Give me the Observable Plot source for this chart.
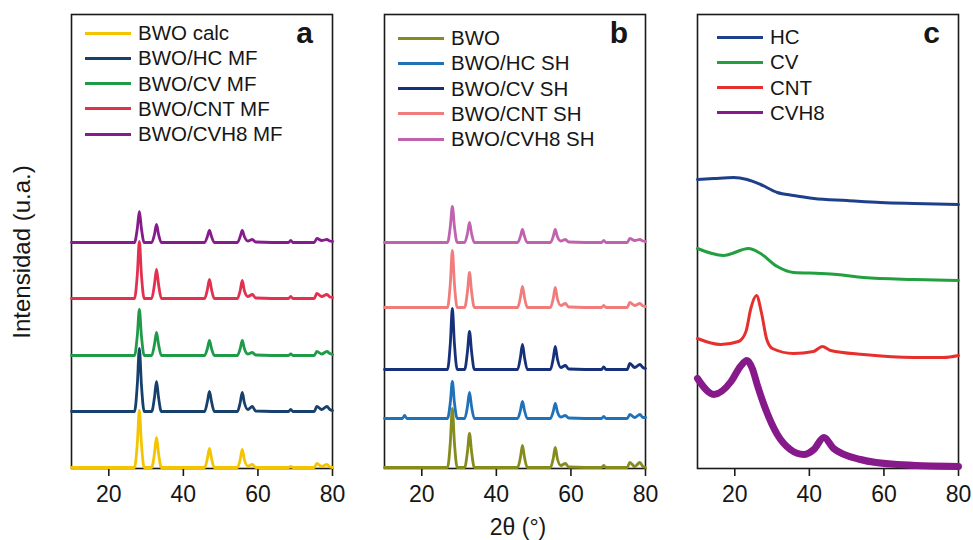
<!DOCTYPE html>
<html>
<head>
<meta charset="utf-8">
<script src="https://cdn.jsdelivr.net/npm/d3@7"></script>
<script src="https://cdn.jsdelivr.net/npm/@observablehq/plot@0.6"></script>
<style>
  html, body { margin: 0; padding: 0; background: #fff; }
  #root { position: relative; width: 973px; height: 540px; overflow: hidden; font-family: "Liberation Sans", Arial, sans-serif; color: #161616; }
  .abs { position: absolute; }
  .leg { position: absolute; display: flex; align-items: center; font-size: 20.5px; line-height: 24px; white-space: nowrap; }
  .leg .sw { width: 46px; height: 3px; margin-right: 7px; }
  .letter { position: absolute; font-weight: bold; font-size: 30px; line-height: 30px; }
</style>
</head>
<body>
<div id="root"></div>
<script>
// ---------- data ----------
// shared 2θ sampling positions for panels a and b (peak positions)
const gridAB = [10, 14.8, 15.4, 16,
  26.9, 27.65, 28.2, 28.75, 29.5,
  31.5, 32.25, 32.8, 33.35, 34.1,
  45.7, 46.45, 47, 47.55, 48.3,
  54.5, 55.25, 55.8, 56.35, 57.3, 58.5, 59.4,
  68.2, 68.8, 69.4,
  75.1, 75.8, 77.1, 78.5, 79.3, 80];

// panel a (MF) — intensity above each trace's own baseline
const aNames = ["BWO calc", "BWO/HC MF", "BWO/CV MF", "BWO/CNT MF", "BWO/CVH8 MF"];
const aColors = ["#F5C400", "#17406D", "#1E9A48", "#E2304F", "#861C8C"];
const aBaselines = [1, 57, 113, 170, 226];
const bwoCalc  = [0,0,0,0, 0,24,57,24,0, 0,14,30,14,0, 0,9,19,9,0, 0,8,18,8,1.5,3,0, 0,1,0, 0,4,1,3,0.5,0];
const bwoHcMF  = [0,0,0,0, 0,27,63,27,0, 0,14,30,14,0, 0,10,20,10,0, 0,9,19,9,2,5,0.5, 0,2,0, 0,5,2,5,2,1];
const bwoCvMF  = [0,0,0,0, 0,20,46,20,0, 0,11,23,11,0, 0,7,15,7,0, 0,7,15,7,1.5,3,0.5, 0,1.5,0, 0,4,1.5,4,2,1];
const bwoCntMF = [0,0,0,0, 0,24,57,24,0, 0,14,29,14,0, 0,9,19,9,0, 0,8,18,8,2,4,0.5, 0,2,0, 0,5,2,4,1.5,1];
const bwoCvh8MF= [0,0,0,0, 0,14,31,14,0, 0,8,18,8,0, 0,6,12,6,0, 0,6,12,6,1.5,3,0.5, 0,2,0, 0,4,2,3,1.5,1];

// panel b (SH)
const bNames = ["BWO", "BWO/HC SH", "BWO/CV SH", "BWO/CNT SH", "BWO/CVH8 SH"];
const bColors = ["#868B1E", "#1F72BA", "#17307A", "#F07C7C", "#C062AE"];
const bBaselines = [1, 50, 99, 161, 226];
const bwo      = [0,0,0,0, 0,25,59,25,0, 0,16,34,16,0, 0,10,22,10,0, 0,9,20,9,2,4,0.5, 0,2,0, 0,5,1,5,1,0];
const bwoHcSH  = [0,0,3,0, 0,16,37,16,0, 0,12,26,12,0, 0,8,17,8,0, 0,7,15,7,1.5,3,0.5, 0,2,0, 0,4,1,4,1,1];
const bwoCvSH  = [0,0,0,0, 0,26,61,26,0, 0,18,38,18,0, 0,12,25,12,0, 0,11,23,11,2,4,0.5, 0,2.5,0, 0,6,2,5,2,1];
const bwoCntSH = [0,0,0,0, 0,24,57,24,0, 0,16,35,16,0, 0,10,21,10,0, 0,9,20,9,2,4,0.5, 0,2,0, 0,5,2,4,1.5,1];
const bwoCvh8SH= [0,0,0,0, 0,16,36,16,0, 0,9,20,9,0, 0,6,13,6,0, 0,6,13,6,1.5,3,0.5, 0,2,0, 0,4,2,3,1.5,1];

// panel c (carbons)
const cNames = ["HC", "CV", "CNT", "CVH8"];
const cColors = ["#1E3F8A", "#22A03F", "#E5302D", "#861A8A"];
const cWidths = [3, 3, 3, 7];
const hcX   = [10, 14.4, 19.7, 23.3, 26.9, 31.4, 35.8, 41.2, 50.1, 59.1, 68, 80];
const hcY   = [289, 290, 291, 289, 284, 276, 273, 270, 268, 266, 265, 264];
const cvX   = [10, 17, 23.7, 26.9, 31.4, 35.8, 43, 47.4, 54.5, 68, 80];
const cvY   = [220, 213, 220, 215, 202, 196, 195, 194, 191, 189, 188];
const cntX  = [10, 16.2, 21, 23, 24.3, 25.8, 27.2, 28.5, 30.1, 35.7, 41.1, 43.5, 45.7, 54.5, 68, 76, 80];
const cntY  = [130, 124, 127, 137, 160, 173, 155, 130, 120, 115, 117, 122, 118, 114, 111, 111, 113];
const cvh8X = [10, 14.4, 19, 21.5, 23.3, 24.7, 26, 27.8, 31.4, 34.9, 38.5, 41.2, 43.9, 46.5, 53.7, 63.6, 80];
const cvh8Y = [90, 74, 87, 102, 108, 100, 84, 64, 34, 19, 14, 19, 31, 20, 9, 4, 2];

const xTicks = [20, 40, 60, 80];

// ---------- build tables ----------
function stacked(names, baselines, series) {
  const rows = [];
  series.forEach((vals, i) => vals.forEach((v, j) => rows.push({s: names[i], x: gridAB[j], y: baselines[i] + v})));
  return rows;
}
const aData = stacked(aNames, aBaselines, [bwoCalc, bwoHcMF, bwoCvMF, bwoCntMF, bwoCvh8MF]);
const bData = stacked(bNames, bBaselines, [bwo, bwoHcSH, bwoCvSH, bwoCntSH, bwoCvh8SH]);
const cSeries = [[hcX, hcY], [cvX, cvY], [cntX, cntY], [cvh8X, cvh8Y]];

const FONT = '"Liberation Sans", Arial, sans-serif';

function panel(lineMarks) {
  return Plot.plot({
    width: 283, height: 510,
    marginLeft: 10, marginRight: 12, marginTop: 14, marginBottom: 42,
    x: {domain: [10, 80]},
    y: {domain: [0, 454], axis: null},
    style: {fontFamily: FONT, fontSize: "23px", color: "#161616", background: "transparent", overflow: "visible"},
    marks: [
      Plot.frame({stroke: "#1a1a1a", strokeWidth: 1.6}),
      Plot.axisX({ticks: xTicks, tickSize: 8, tickPadding: 9, fontSize: 23, label: null, tickFormat: d => String(d), stroke: "#1a1a1a", strokeWidth: 1.6}),
      ...lineMarks
    ]
  });
}

function stackLines(data, names, colors) {
  return names.map((n, i) => Plot.line(data.filter(d => d.s === n), {x: "x", y: "y", stroke: colors[i], strokeWidth: 2.8, curve: "monotone-x"}));
}

const root = document.getElementById("root");
const plots = [
  [panel(stackLines(aData, aNames, aColors)), 61],
  [panel(stackLines(bData, bNames, bColors)), 374],
  [panel(cSeries.map(([xs, ys], i) => Plot.line(xs.map((x, k) => ({x, y: ys[k]})), {x: "x", y: "y", stroke: cColors[i], strokeWidth: cWidths[i], curve: "monotone-x"}))), 687]
];
plots.forEach(([svg, left]) => {
  svg.style.position = "absolute";
  svg.style.left = left + "px";
  svg.style.top = "0px";
  root.appendChild(svg);
});

// ---------- legends ----------
function legend(names, colors, left, top0) {
  names.forEach((n, i) => {
    const row = document.createElement("div");
    row.className = "leg";
    row.style.left = left + "px";
    row.style.top = (top0 + i * 25.3 - 12) + "px";
    const sw = document.createElement("div");
    sw.className = "sw";
    sw.style.background = colors[i];
    const t = document.createElement("span");
    t.textContent = n;
    row.appendChild(sw); row.appendChild(t);
    root.appendChild(row);
  });
}
legend(aNames, aColors, 85, 33);
legend(bNames, bColors, 398, 38);
legend(cNames, cColors, 717, 37);

// panel letters
[["a", 313], ["b", 628], ["c", 940]].forEach(([l, right]) => {
  const d = document.createElement("div");
  d.className = "letter";
  d.textContent = l;
  d.style.left = (right - 40) + "px";
  d.style.width = "40px";
  d.style.textAlign = "right";
  d.style.top = "18px";
  root.appendChild(d);
});

// axis titles
const yl = document.createElement("div");
yl.className = "abs";
yl.textContent = "Intensidad (u.a.)";
yl.style.fontSize = "24px";
yl.style.whiteSpace = "nowrap";
yl.style.left = "22px";
yl.style.top = "252px";
yl.style.transform = "translate(-50%, -50%) rotate(-90deg)";
root.appendChild(yl);

const xl = document.createElement("div");
xl.className = "abs";
xl.textContent = "2θ (°)";
xl.style.fontSize = "23px";
xl.style.whiteSpace = "nowrap";
xl.style.left = "518px";
xl.style.top = "527px";
xl.style.transform = "translate(-50%, -50%)";
root.appendChild(xl);
</script>
</body>
</html>
